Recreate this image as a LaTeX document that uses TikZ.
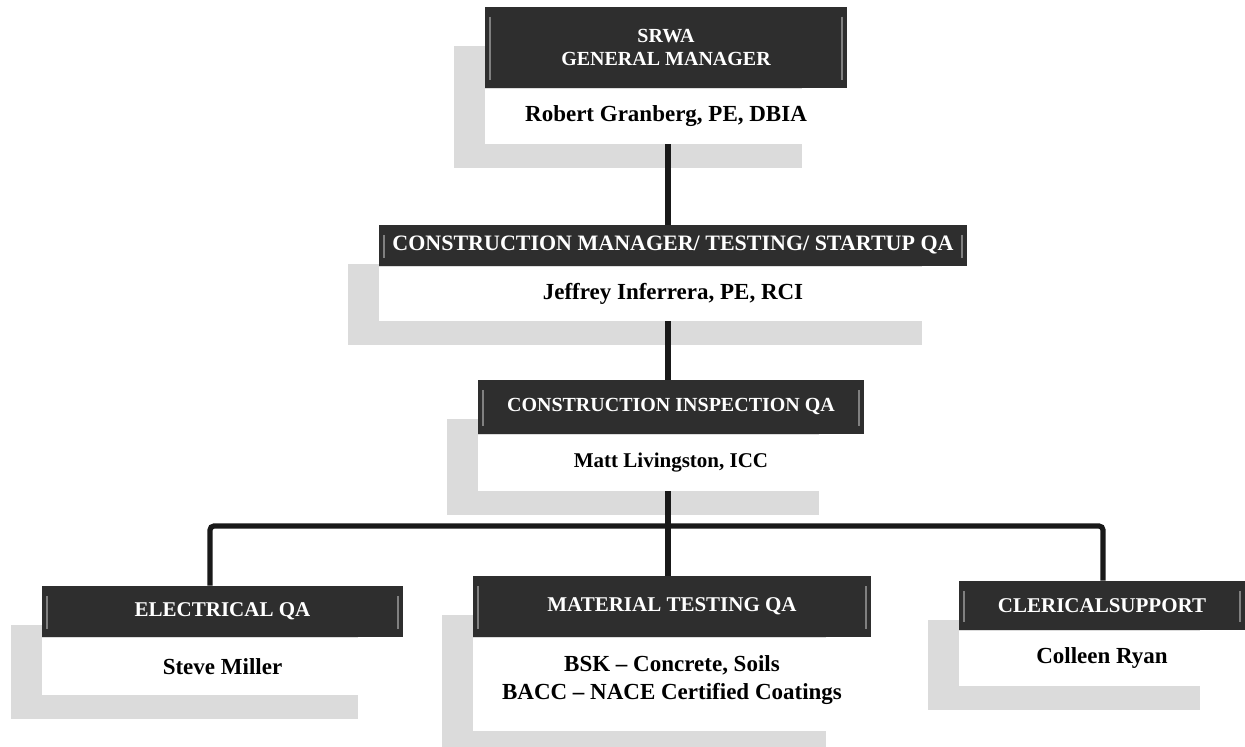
\documentclass[tikz,border=0pt]{standalone}
\usepackage{fontspec}
\setmainfont{Liberation Serif}
\usetikzlibrary{positioning,backgrounds}

\begin{document}
\begin{tikzpicture}[x=0.5pt,y=-0.5pt,
	boxhead/.style={fill=black!82,text=white,font=\fontsize{10.5}{12}\selectfont\bfseries,align=center,inner sep=0pt,
		path picture={
			\draw[black!50,line width=1pt] ([xshift=2.5pt,yshift=-5pt]path picture bounding box.north west) -- ([xshift=2.5pt,yshift=4pt]path picture bounding box.south west);
			\draw[black!50,line width=1pt] ([xshift=-2.5pt,yshift=-5pt]path picture bounding box.north east) -- ([xshift=-2.5pt,yshift=4pt]path picture bounding box.south east);}},
	boxbody/.style={fill=white,font=\fontsize{11.5}{14}\selectfont\bfseries,align=center,inner sep=0pt},
	wire/.style={line width=2.6pt,black!90},
	dropshadow/.style={fill=black!14}]
	\useasboundingbox (0,0) rectangle (1245,747);
	% general manager
	\node[boxhead,minimum width=181pt,minimum height=40.5pt,font=\fontsize{10}{11.5}\selectfont\bfseries] (gmhead) at (666,47.5) {SRWA\\GENERAL MANAGER};
	\node[boxbody,minimum width=181pt,minimum height=27.5pt,below=0pt of gmhead] (gm) {Robert Granberg, PE, DBIA};
	% construction manager
	\node[boxhead,minimum width=294pt,minimum height=20.5pt,font=\fontsize{11}{12}\selectfont\bfseries] (cmhead) at (673,245.5) {CONSTRUCTION MANAGER/ TESTING/ STARTUP QA};
	\node[boxbody,minimum width=294pt,minimum height=27pt,below=0pt of cmhead] (cm) {Jeffrey Inferrera, PE, RCI};
	% inspection
	\node[boxhead,minimum width=193pt,minimum height=27pt,font=\fontsize{10}{12}\selectfont\bfseries] (cihead) at (671,407) {CONSTRUCTION INSPECTION QA};
	\node[boxbody,minimum width=193pt,minimum height=28pt,below=0pt of cihead,font=\fontsize{10.5}{13}\selectfont\bfseries] (ci) {Matt Livingston, ICC};
	% bottom row
	\node[boxhead,minimum width=180.5pt,minimum height=25.5pt] (elhead) at (222.5,611.5) {ELECTRICAL QA};
	\node[boxbody,minimum width=180.5pt,minimum height=28.5pt,below=0pt of elhead] (el) {Steve Miller};
	\node[boxhead,minimum width=199pt,minimum height=30.5pt] (mthead) at (672,606.5) {MATERIAL TESTING QA};
	\node[boxbody,minimum width=199pt,minimum height=46.5pt,below=0pt of mthead] (mt) {BSK -- Concrete, Soils\\BACC -- NACE Certified Coatings\\[-7pt]\mbox{}};
	\node[boxhead,minimum width=143pt,minimum height=24.5pt] (cshead) at (1102,605.5) {CLERICALSUPPORT};
	\node[boxbody,minimum width=143pt,minimum height=27.5pt,below=0pt of cshead] (cs) {Colleen Ryan};

	\begin{scope}[on background layer]
		\foreach \b in {gm,cm,ci,el,mt,cs}
			\fill[dropshadow] ([shift={(-31,39)}]\b head.north west) rectangle ([shift={(-45,24)}]\b.south east);
	\end{scope}

	\coordinate (spine) at (668,0);
	\coordinate (elleg) at (210,526);
	\coordinate (csleg) at (1103,526);
	\draw[wire] (spine |- gm.south) -- (spine |- cmhead.north);
	\draw[wire] (spine |- cm.south) -- (spine |- cihead.north);
	\draw[wire] (spine |- ci.south) -- (spine |- mthead.north);
	\draw[wire,rounded corners=2pt] (elleg |- elhead.north) -- (elleg) -- (csleg) -- (csleg |- cshead.north);
\end{tikzpicture}
\end{document}
